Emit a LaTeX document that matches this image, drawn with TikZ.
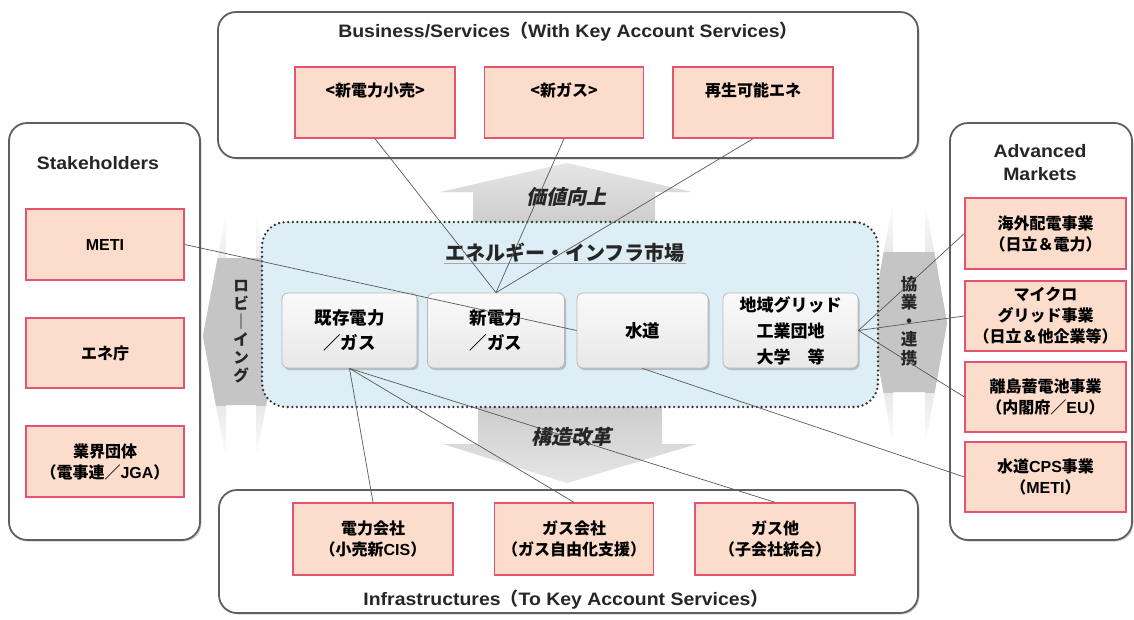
\documentclass[tikz,border=0pt]{standalone}
\usepackage{fontspec}
\setmainfont{Liberation Sans}
\newfontfamily\jp{Noto Sans CJK JP}
\newfontfamily\jpi{Noto Sans CJK JP}[FakeSlant=0.22]
\newfontfamily\ttlfont{Liberation Sans}[FakeStretch=1.08]
\newcommand\latx[1]{{\rmfamily\bfseries #1}}
\usetikzlibrary{shadows}
\definecolor{subfill}{RGB}{252,220,202}
\definecolor{subdraw}{RGB}{228,84,112}
\definecolor{contdraw}{RGB}{95,95,95}
\definecolor{mktfill}{RGB}{221,238,246}
\definecolor{arrowgray}{RGB}{190,190,190}
\begin{document}
\begin{tikzpicture}[x=1pt,y=-1pt,
  cont/.style={draw=contdraw, line width=1.8pt, rounded corners=18pt, fill=white,
    drop shadow={opacity=0.35, shadow xshift=1.5pt, shadow yshift=-1.5pt}},
  sub/.style={draw=subdraw, line width=1.4pt, fill=subfill, inner sep=0pt, align=center,
    font=\jp\bfseries\fontsize{16}{21}\selectfont},
  mbox/.style={draw=gray!55, line width=0.8pt, rounded corners=6pt, top color=gray!4, bottom color=gray!18,
    inner sep=0pt, align=center, font=\jp\bfseries\fontsize{17.5}{25}\selectfont,
    drop shadow={opacity=0.45, shadow xshift=1.5pt, shadow yshift=-2pt}},
  ttl/.style={font=\ttlfont\bfseries\fontsize{18}{23}\selectfont, text=black!85, align=center},
  conn/.style={draw=black!65, line width=0.7pt},
  arrlbl/.style={font=\jpi\bfseries\fontsize{20}{22}\selectfont, text=black!85},
  vlbl/.style={font=\jp\bfseries\fontsize{15.5}{18}\selectfont, align=center, text=black!85}
]
\useasboundingbox (0,0) rectangle (1134,619);

% containers
\node[cont, minimum width=700, minimum height=146] (biz) at (568,85) {};
\node[cont, minimum width=699, minimum height=123] (inf) at (568.5,551.5) {};
\node[cont, minimum width=191, minimum height=417] (stk) at (104.5,331.5) {};
\node[cont, minimum width=182, minimum height=417] (adv) at (1041,331.5) {};

\node[ttl] (bizt) at (568,32) {Business/Services{\jp （}With Key Account Services{\jp ）}};
\node[ttl] (inft) at (566,600) {Infrastructures{\jp （}To Key Account Services{\jp ）}};
\node[ttl] (stkt) at (98,163) {Stakeholders};
\node[ttl] (advt) at (1040,163) {Advanced\\Markets};

% business boxes (text in the upper part)
\node[sub, minimum width=160, minimum height=71] (b1) at (375,102.5) {};
\node[sub, minimum width=159, minimum height=71] (b2) at (564,102.5) {};
\node[sub, minimum width=160, minimum height=71] (b3) at (753,102.5) {};
\node[font=\jp\bfseries\fontsize{16}{21}\selectfont] (b1t) at (375,90) {<新電力小売>};
\node[font=\jp\bfseries\fontsize{16}{21}\selectfont] (b2t) at (564,90) {<新ガス>};
\node[font=\jp\bfseries\fontsize{16}{21}\selectfont] (b3t) at (753,90) {再生可能エネ};

% stakeholder boxes
\node[sub, minimum width=158, minimum height=71] (meti) at (105,244.5) {\latx{METI}};
\node[sub, minimum width=158, minimum height=70] (ene) at (105,353) {エネ庁};
\node[sub, minimum width=158, minimum height=71] (gyo) at (105,461.5) {業界団体\\（電事連／\latx{JGA}）};

% advanced market boxes
\node[sub, minimum width=161, minimum height=71] (m1) at (1045.5,233.5) {海外配電事業\\（日立＆電力）};
\node[sub, minimum width=161, minimum height=70] (m2) at (1045.5,316) {マイクロ\\グリッド事業\\（日立＆他企業等）};
\node[sub, minimum width=161, minimum height=70] (m3) at (1045.5,397) {離島蓄電池事業\\（内閣府／\latx{EU}）};
\node[sub, minimum width=161, minimum height=70] (cps) at (1045.5,477) {水道\latx{CPS}事業\\（\latx{METI}）};

% infrastructure boxes
\node[sub, minimum width=160, minimum height=72] (e1) at (373,539) {電力会社\\（小売新\latx{CIS}）};
\node[sub, minimum width=159, minimum height=72] (g1) at (574,539) {ガス会社\\（ガス自由化支援）};
\node[sub, minimum width=160, minimum height=72] (g2) at (775,539) {ガス他\\（子会社統合）};

% big arrows (behind the market box)
\path[top color=gray!20, bottom color=gray!40] (473,226) -- (473,192) -- (440,192) -- (567,163) -- (692,192) -- (655,192) -- (655,226) -- cycle;
\path[top color=gray!40, bottom color=gray!20] (478,403) -- (478,444) -- (443,444) -- (567,483) -- (697,444) -- (662,444) -- (662,403) -- cycle;

\path[top color=white, bottom color=white, middle color=gray!40]
  (203,336) -- (226,213) -- (226,258) -- (256,258) -- (256,213) -- (279,336) -- (256,460) -- (256,405) -- (226,405) -- (226,460) -- cycle;
\begin{scope}
  \clip (0,258) rectangle (1134,405);
  \fill[arrowgray!90] (203,336) -- (226,213) -- (226,258) -- (256,258) -- (256,213) -- (279,336) -- (256,460) -- (256,405) -- (226,405) -- (226,460) -- cycle;
\end{scope}
\path[top color=white, bottom color=white, middle color=gray!40]
  (871,323) -- (893,200) -- (893,252) -- (925,252) -- (925,200) -- (947,323) -- (925,447) -- (925,392) -- (893,392) -- (893,447) -- cycle;
\begin{scope}
  \clip (0,252) rectangle (1134,392);
  \fill[arrowgray!90] (871,323) -- (893,200) -- (893,252) -- (925,252) -- (925,200) -- (947,323) -- (925,447) -- (925,392) -- (893,392) -- (893,447) -- cycle;
\end{scope}

% market (dotted) box
\node[draw=black!80, line width=2.6pt, dash pattern=on 0pt off 4.6pt, line cap=round,
      fill=mktfill, rounded corners=24pt, minimum width=616, minimum height=185] (mkt) at (570,314.5) {};
\node[font=\jp\bfseries\fontsize{20}{22}\selectfont, text=black!85, inner sep=1pt] (mktt) at (565,253) {エネルギー・インフラ市場};
\draw[gray!70, line width=1pt] (mktt.south west) -- (mktt.south east);

% inner market boxes
\node[mbox, minimum width=135, minimum height=75] (kiz) at (349.5,330.5) {既存電力\\／ガス};
\node[mbox, minimum width=137, minimum height=75] (sd) at (496,330.5) {新電力\\／ガス};
\node[mbox, minimum width=131, minimum height=75] (sui) at (642.5,330.5) {水道};
\node[mbox, minimum width=135, minimum height=75, font=\jp\bfseries\fontsize{17}{26}\selectfont] (chi) at (790.5,330.5) {地域グリッド\\工業団地\\大学　等};

% arrow labels
\node[arrlbl] (up) at (566,197) {価値向上};
\node[arrlbl] (down) at (571,437) {構造改革};
\node[vlbl] (lob) at (241,332) {ロ\\ビ\\｜\\イ\\ン\\グ};
\node[vlbl, font=\jp\bfseries\fontsize{16.5}{18.5}\selectfont] (kyo) at (909,321) {協\\業\\・\\連\\携};

% connectors
\draw[conn] (b1.south) -- (sd.north);
\draw[conn] (b2.south) -- (sd.north);
\draw[conn] (b3.south) -- (sd.north);
\draw[conn] (meti.east) -- (sui.west);
\draw[conn] (kiz.south) -- (e1.north);
\draw[conn] (kiz.south) -- (g1.north);
\draw[conn] (kiz.south) -- (g2.north);
\draw[conn] (sui.south) -- (cps.west);
\draw[conn] (chi.east) -- (m1.west);
\draw[conn] (chi.east) -- (m2.west);
\draw[conn] (chi.east) -- (m3.west);
\end{tikzpicture}
\end{document}
